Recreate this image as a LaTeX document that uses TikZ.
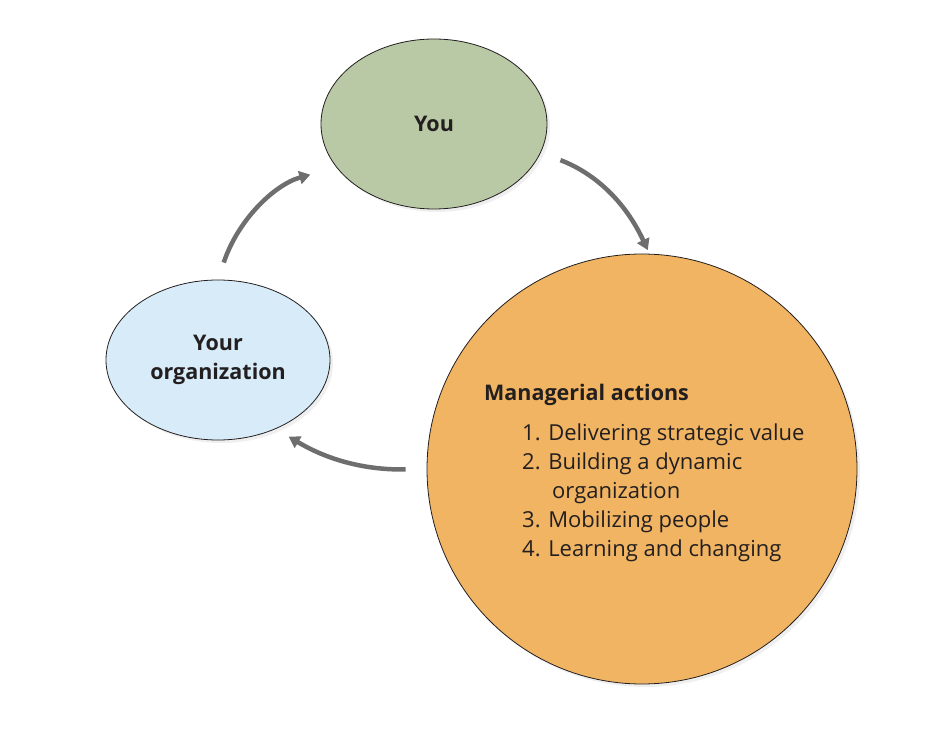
\documentclass[tikz,border=0pt]{standalone}
\usepackage{fontspec}
\setmainfont{Open Sans}
\usepackage{xcolor}
\usepackage{tikz}
\usetikzlibrary{arrows.meta, shapes.geometric, positioning, shadows}

\definecolor{youGreen}{HTML}{B9C8A5}
\definecolor{orgBlue}{HTML}{D7EBF8}
\definecolor{actOrange}{HTML}{F0B462}
\definecolor{flowGray}{HTML}{6E6E6E}
\definecolor{inkDark}{HTML}{231F20}

\tikzset{
    blob/.style={ellipse, draw=inkDark, line width=0.8pt, text=inkDark,
        drop shadow={shadow xshift=3pt, shadow yshift=-3pt, fill=black!12}},
    flow/.style={line width=4.5pt, draw=flowGray, -{Triangle[length=11pt,width=13pt]}},
    bigtext/.style={font=\fontsize{22}{29}\selectfont, text=inkDark, inner sep=0pt},
    boldtext/.style={font=\fontsize{21.5}{29}\selectfont\bfseries, text=inkDark}
}

\begin{document}
\begin{tikzpicture}[x=1pt, y=-1pt]
    \useasboundingbox (0, 0) rectangle (930, 746);

    % Draw the three circles
    \node[blob, fill=youGreen, minimum width=226, minimum height=170,
        boldtext] (you) at (434, 124) {You};
    \node[blob, fill=orgBlue, minimum width=224, minimum height=160, align=center,
        boldtext] (org) at (218, 360) {Your\\organization};
    \node[blob, circle, fill=actOrange, minimum size=430] (act) at (642, 469) {};

    % Add labels
    \node[boldtext, inner sep=0pt, anchor=base west] (head) at (484, 400) {Managerial actions};
    \node[bigtext, anchor=base west, align=left] (steps) at (522, 556)
        {1. Delivering strategic value\\
         2. Building a dynamic\\
         \hspace*{30pt}organization\\
         3. Mobilizing people\\
         4. Learning and changing};

    % Arrows between the circles
    \draw[flow, shorten <=18pt, shorten >=27pt] (org.90) to[bend left=28] (you.204);
    \draw[flow, shorten <=21pt, shorten >=4pt] (you.-15) to[bend left=22] (act.88);
    \draw[flow, shorten <=21pt, shorten >=15pt] (act.180) to[bend left=16] (org.-50);

\end{tikzpicture}
\end{document}
